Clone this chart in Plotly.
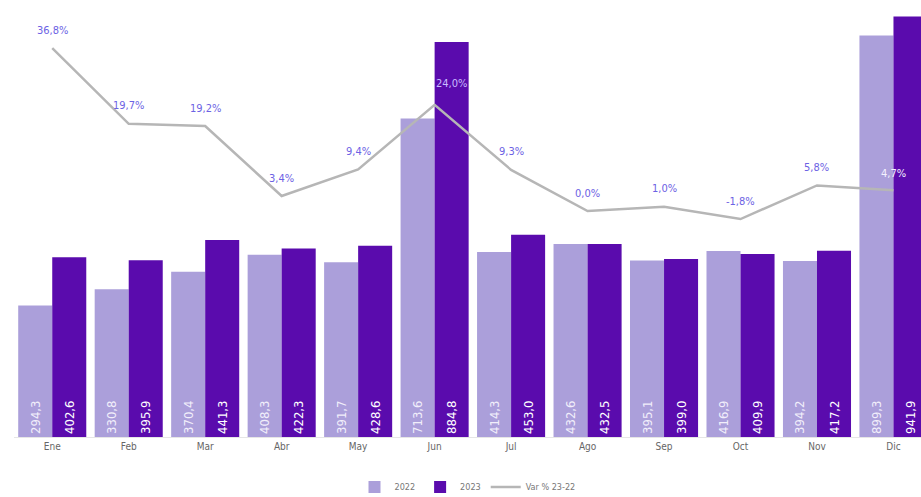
import plotly.graph_objects as go

months = ["Ene", "Feb", "Mar", "Abr", "May", "Jun", "Jul", "Ago", "Sep", "Oct", "Nov", "Dic"]
v2022 = [294.3, 330.8, 370.4, 408.3, 391.7, 713.6, 414.3, 432.6, 395.1, 416.9, 394.2, 899.3]
v2023 = [402.6, 395.9, 441.3, 422.3, 428.6, 884.8, 453.0, 432.5, 399.0, 409.9, 417.2, 941.9]
var_pct = [36.8, 19.7, 19.2, 3.4, 9.4, 24.0, 9.3, 0.0, 1.0, -1.8, 5.8, 4.7]

def fmt(v, suffix=""):
    return f"{v:.1f}".replace(".", ",") + suffix

FONT = "DejaVu Sans Condensed, Liberation Sans, sans-serif"
C22 = "#ab9fda"
C23 = "#5a0bad"
LBL = "#6c62e4"

fig = go.Figure()
fig.add_trace(go.Bar(
    name="2022", x=months, y=v2022, marker=dict(color=C22, line=dict(width=0)),
    text=[fmt(v) for v in v2022], textposition="inside", insidetextanchor="start",
    textangle=-90, textfont=dict(color="#f1eefa", size=13, family=FONT),
))
fig.add_trace(go.Bar(
    name="2023", x=months, y=v2023, marker=dict(color=C23, line=dict(width=0)),
    text=[fmt(v) for v in v2023], textposition="inside", insidetextanchor="start",
    textangle=-90, textfont=dict(color="#ffffff", size=13, family=FONT),
))
fig.add_trace(go.Scatter(
    name="Var % 23-22", x=months, y=var_pct, yaxis="y2", mode="lines",
    line=dict(color="#b6b6b6", width=2.5),
))

annotations = []
for m, v in zip(months, var_pct):
    color, xs, ys = LBL, 0, 18
    if m == "Jun":
        color, xs, ys = "#c8bbff", 17, 21
    elif m == "Dic":
        color, xs, ys = "#f4f2ff", 0, 17
    annotations.append(dict(
        x=m, y=v, xref="x", yref="y2", text=fmt(v, "%"), showarrow=False,
        xshift=xs, yshift=ys, font=dict(color=color, size=11, family=FONT),
    ))

fig.update_layout(
    width=921, height=497,
    margin=dict(l=14, r=0, t=10, b=60, autoexpand=False),
    paper_bgcolor="white", plot_bgcolor="white",
    barmode="group", bargap=0.11, bargroupgap=0,
    uniformtext=dict(minsize=8, mode="show"),
    annotations=annotations,
    xaxis=dict(range=[-0.5, 11.36], showgrid=False, showline=True, linecolor="#e6e6e6",
               tickfont=dict(color="#666666", size=10, family=FONT), ticks="",
               automargin=False),
    yaxis=dict(range=[0, 956.5], visible=False, showgrid=False, automargin=False),
    yaxis2=dict(range=[-51.0, 45.4], overlaying="y", visible=False, showgrid=False,
                automargin=False),
    legend=dict(orientation="h", x=0.5, xanchor="center", y=-0.117, yanchor="middle",
                font=dict(color="#777777", size=9, family=FONT), itemwidth=30,
                tracegroupgap=0),
    showlegend=True,
)

fig.write_html("out.html", config={"displayModeBar": False},
               post_script="document.body.style.margin='0';document.body.style.overflow='hidden';")
